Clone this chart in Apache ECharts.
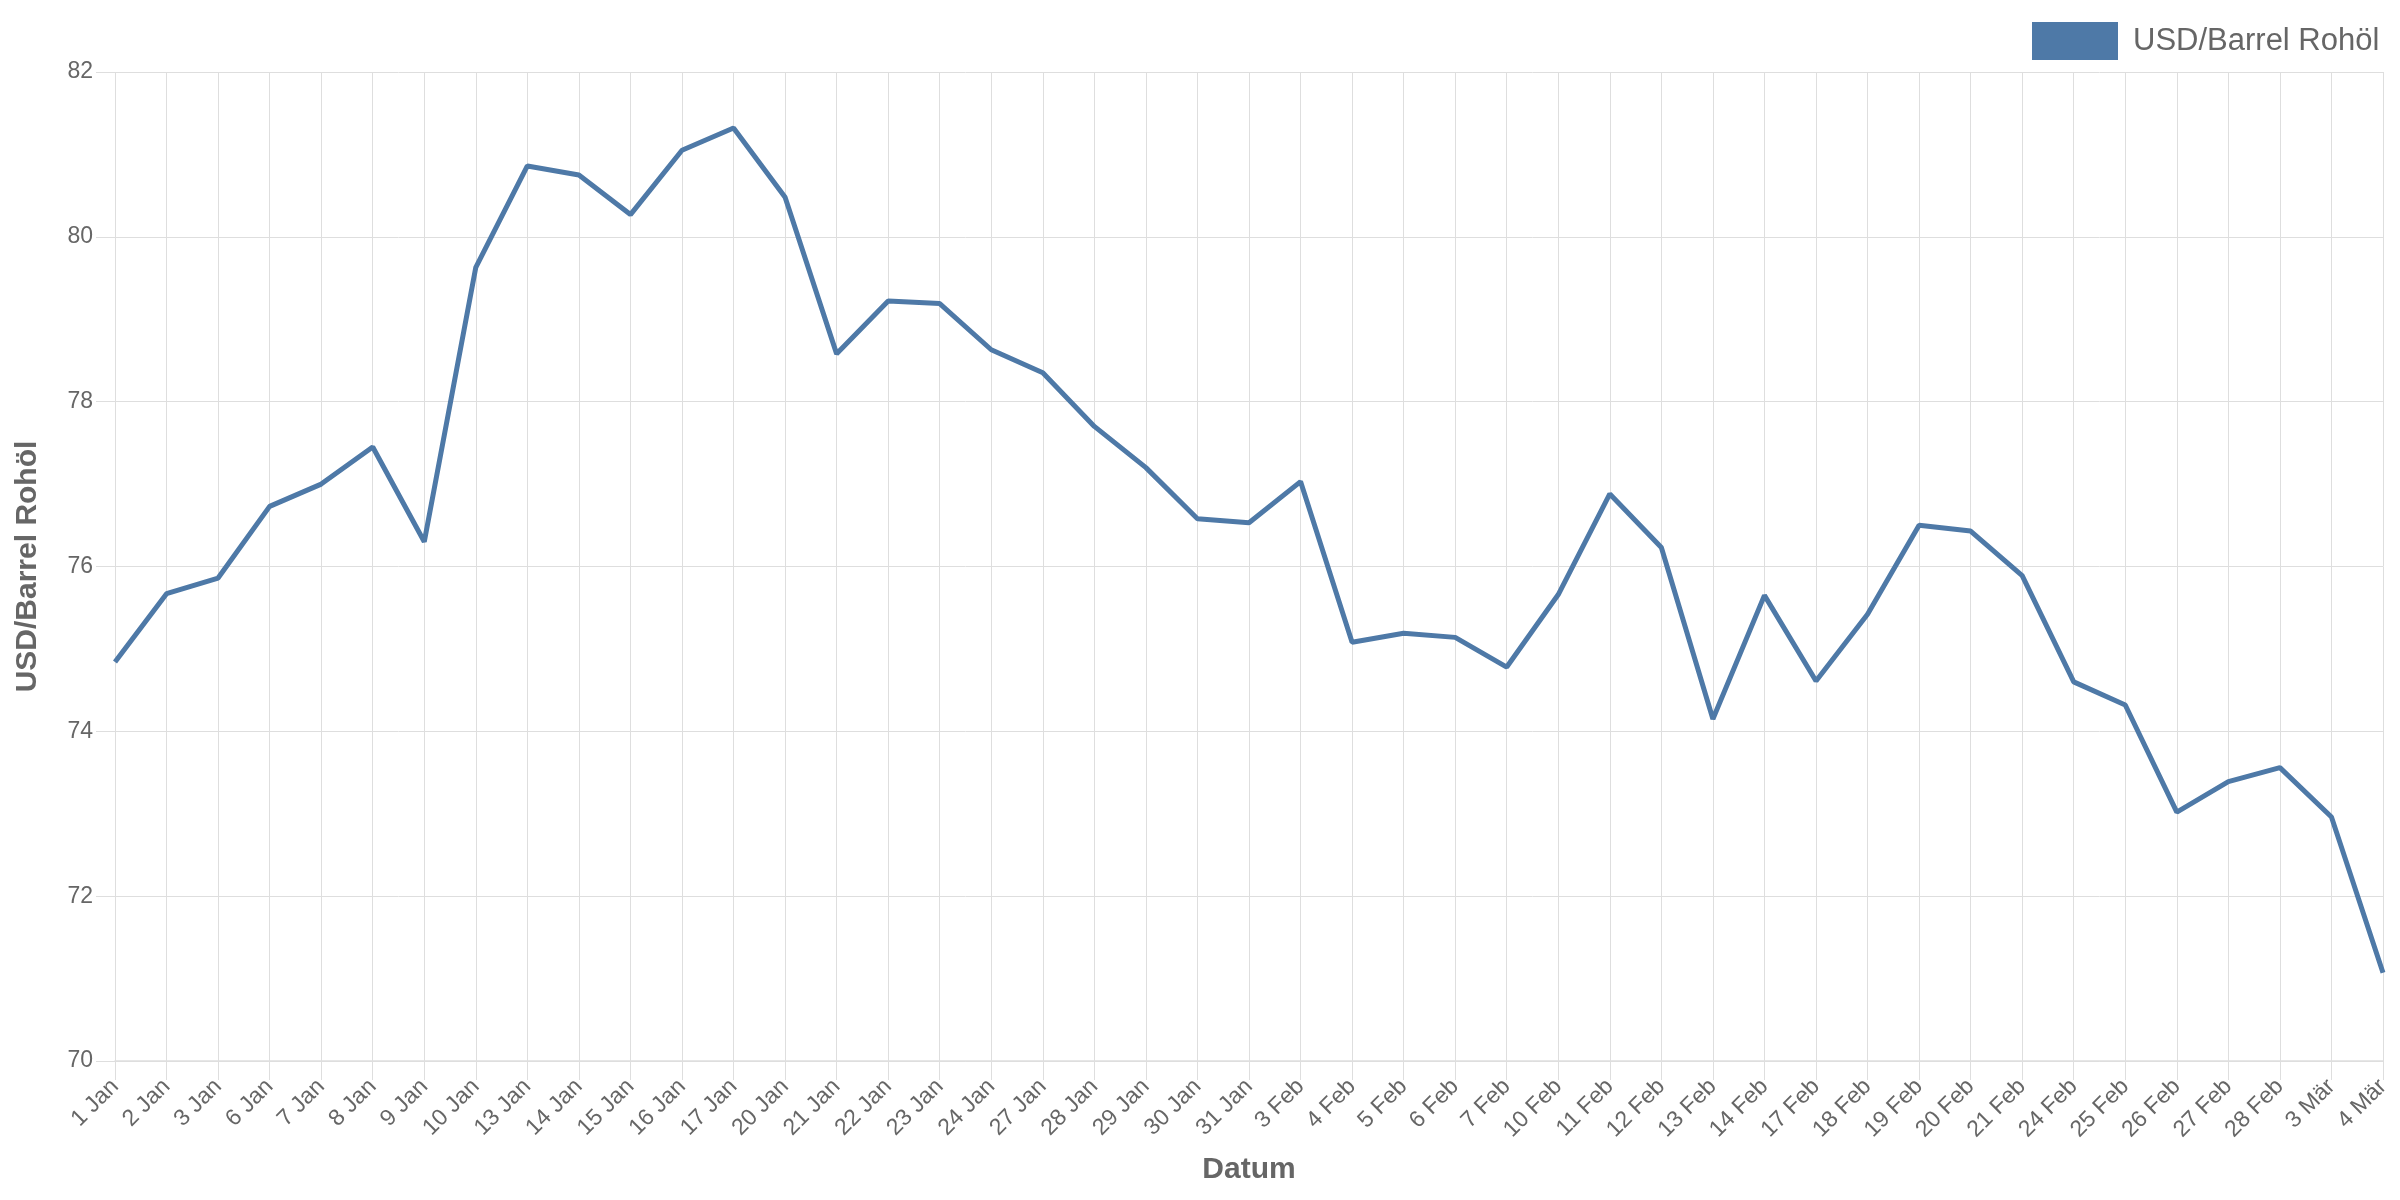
<!DOCTYPE html>
<html>
<head>
<meta charset="utf-8">
<script src="https://cdn.jsdelivr.net/npm/echarts@6/dist/echarts.min.js"></script>
<style>
html,body{margin:0;padding:0;background:#fff;}
#chart{width:2400px;height:1200px;}
</style>
</head>
<body>
<div id="chart"></div>
<script>
const categories = ["1 Jan","2 Jan","3 Jan","6 Jan","7 Jan","8 Jan","9 Jan","10 Jan","13 Jan","14 Jan","15 Jan","16 Jan","17 Jan","20 Jan","21 Jan","22 Jan","23 Jan","24 Jan","27 Jan","28 Jan","29 Jan","30 Jan","31 Jan","3 Feb","4 Feb","5 Feb","6 Feb","7 Feb","10 Feb","11 Feb","12 Feb","13 Feb","14 Feb","17 Feb","18 Feb","19 Feb","20 Feb","21 Feb","24 Feb","25 Feb","26 Feb","27 Feb","28 Feb","3 Mär","4 Mär"];
const oilPrice = [74.84,75.67,75.86,76.73,77.00,77.45,76.30,79.63,80.86,80.75,80.27,81.05,81.32,80.48,78.58,79.22,79.19,78.63,78.35,77.70,77.20,76.58,76.53,77.03,75.08,75.19,75.14,74.78,75.66,76.88,76.23,74.15,75.65,74.61,75.42,76.50,76.43,75.89,74.60,74.32,73.02,73.39,73.56,72.96,71.07];
const seriesName = "USD/Barrel Rohöl";
const xTitle = "Datum";
const yTitle = "USD/Barrel Rohöl";
const yMin = 70, yMax = 82, yStep = 2;

const chart = echarts.init(document.getElementById('chart'), null, {renderer:'canvas'});
const gridColor = '#dedede';
const textColor = '#666666';
const font = 'Liberation Sans, Arial, sans-serif';
chart.setOption({
  animation: false,
  backgroundColor: '#ffffff',
  textStyle: {fontFamily: font},
  legend: {
    left: 2027, top: 17,
    icon: 'rect', itemWidth: 86, itemHeight: 38,
    textStyle: {fontSize: 31, color: textColor, fontFamily: font, padding: [0,0,0,10]},
    data: [seriesName]
  },
  grid: {left: 115, right: 17, top: 72, bottom: 139, containLabel: false, outerBoundsMode: 'none'},
  xAxis: {
    type: 'category', boundaryGap: false, data: categories,
    name: xTitle, nameLocation: 'middle', nameGap: 94,
    nameTextStyle: {fontSize: 30, fontWeight: 'bold', color: textColor, fontFamily: font},
    axisLine: {show: true, lineStyle: {color: gridColor, width: 1.5}},
    axisTick: {show: true, length: 19, interval: 0, lineStyle: {color: gridColor, width: 1}},
    axisLabel: {rotate: 45, interval: 0, fontSize: 23, color: textColor, margin: 22, fontFamily: font},
    splitLine: {show: true, lineStyle: {color: gridColor, width: 1}}
  },
  yAxis: {
    type: 'value', min: yMin, max: yMax, interval: yStep,
    name: yTitle, nameLocation: 'middle', nameGap: 72, nameRotate: 90,
    nameTextStyle: {fontSize: 30, fontWeight: 'bold', color: textColor, fontFamily: font},
    axisLine: {show: false},
    axisTick: {show: true, length: 19, lineStyle: {color: gridColor, width: 1}},
    axisLabel: {fontSize: 23, color: textColor, margin: 22, fontFamily: font},
    splitLine: {show: true, lineStyle: {color: gridColor, width: 1}}
  },
  series: [{
    name: seriesName, type: 'line', data: oilPrice,
    showSymbol: false, symbol: 'none', smooth: false,
    color: '#4e79a7',
    lineStyle: {width: 5, color: '#4e79a7'}
  }]
});
</script>
</body>
</html>
